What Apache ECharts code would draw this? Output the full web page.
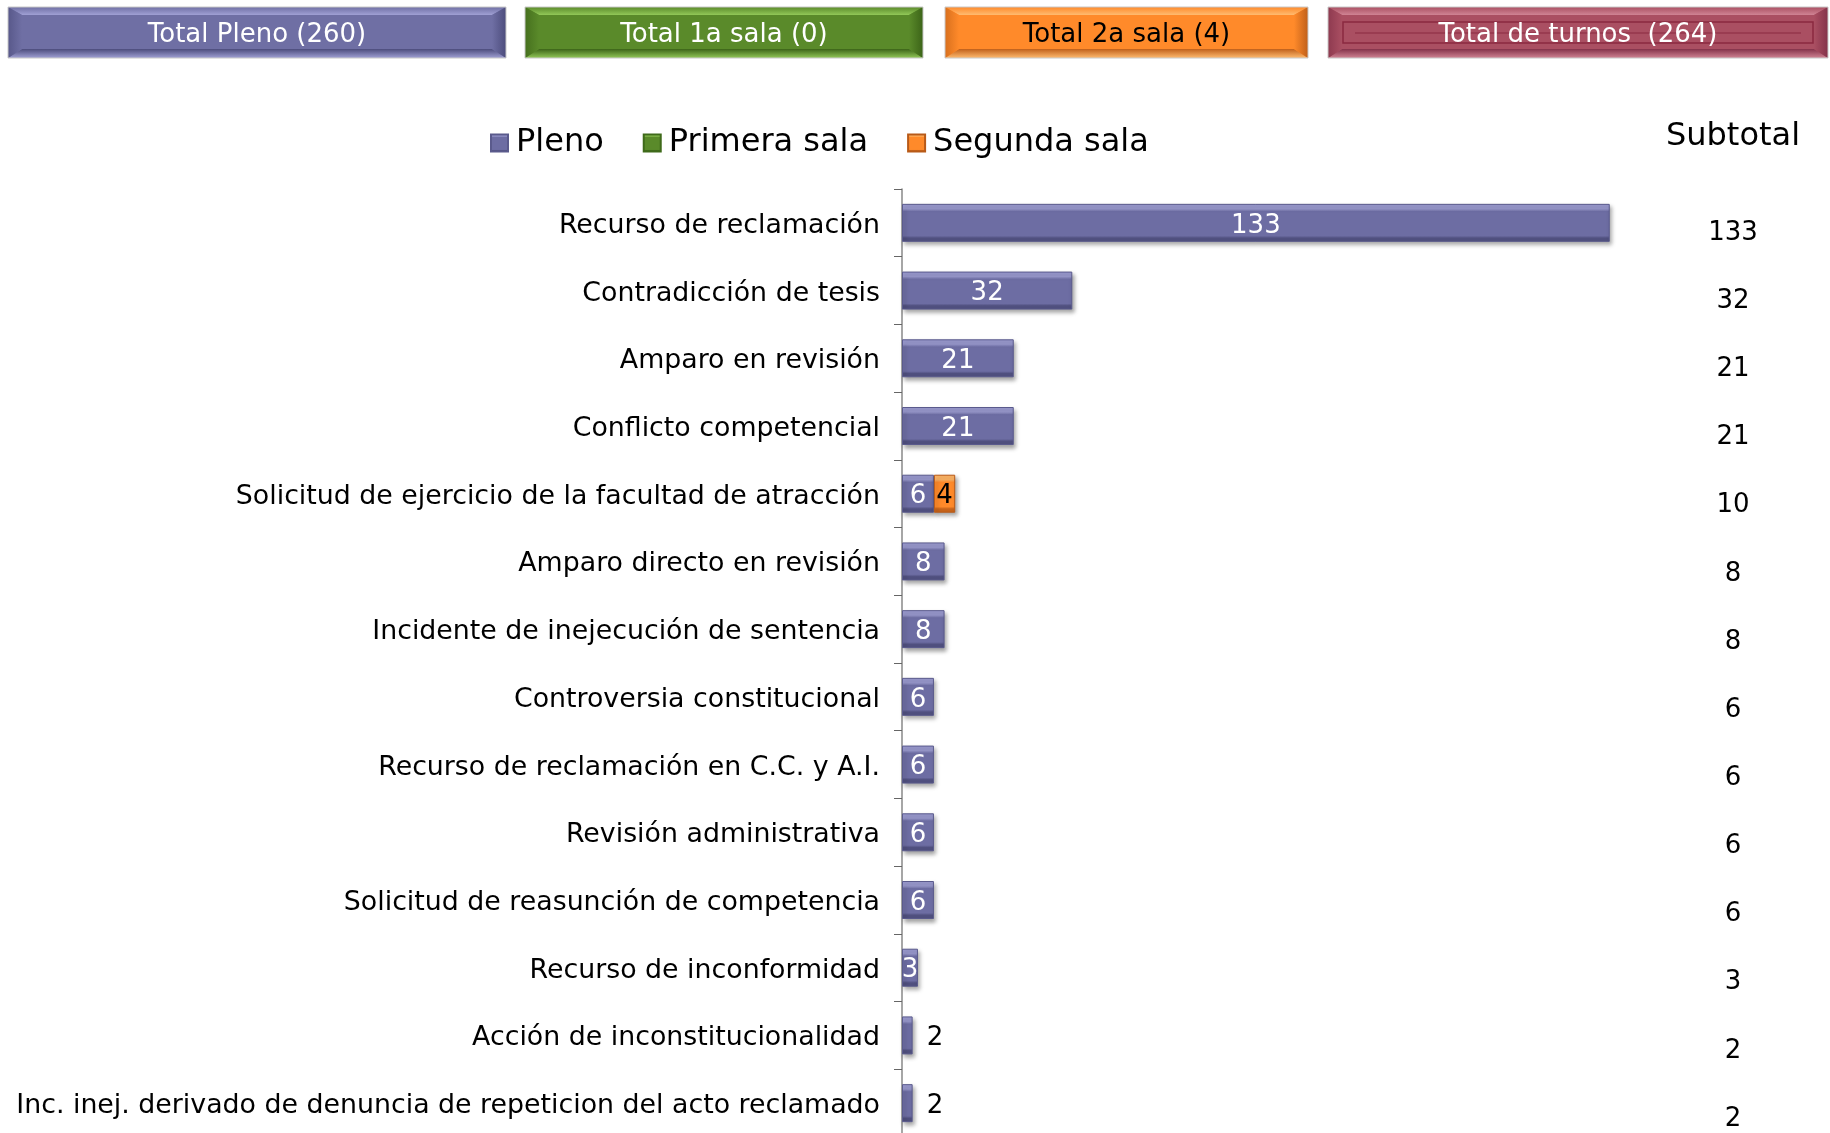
<!DOCTYPE html>
<html>
<head>
<meta charset="utf-8">
<script src="https://cdn.jsdelivr.net/npm/echarts@6/dist/echarts.min.js"></script>
<style>
  html, body { margin: 0; padding: 0; background: #fff; }
  #chart { width: 1830px; height: 1133px; }
</style>
</head>
<body>
<div id="chart"></div>
<script>
const categories = [
  "Recurso de reclamación",
  "Contradicción de tesis",
  "Amparo en revisión",
  "Conflicto competencial",
  "Solicitud de ejercicio de la facultad de atracción",
  "Amparo directo en revisión",
  "Incidente de inejecución de sentencia",
  "Controversia constitucional",
  "Recurso de reclamación en C.C. y A.I.",
  "Revisión administrativa",
  "Solicitud de reasunción de competencia",
  "Recurso de inconformidad",
  "Acción de inconstitucionalidad",
  "Inc. inej. derivado de denuncia de repeticion del acto reclamado"
];
const pleno = [133, 32, 21, 21, 6, 8, 8, 6, 6, 6, 6, 3, 2, 2];
const primera = [0, 0, 0, 0, 0, 0, 0, 0, 0, 0, 0, 0, 0, 0];
const segunda = [0, 0, 0, 0, 4, 0, 0, 0, 0, 0, 0, 0, 0, 0];
const seriesNames = ["Pleno", "Primera sala", "Segunda sala"];

const sum = a => a.reduce((s, v) => s + v, 0);
const subtotal = categories.map((c, i) => pleno[i] + primera[i] + segunda[i]);
const totPleno = sum(pleno), totPrimera = sum(primera), totSegunda = sum(segunda);
const totAll = totPleno + totPrimera + totSegunda;

const FONT = "DejaVu Sans";

// bevel-ish gradient, light top edge, dark bottom edge
const bevel = (light, base, dark) => new echarts.graphic.LinearGradient(0, 0, 0, 1, [
  { offset: 0, color: light },
  { offset: 0.13, color: light },
  { offset: 0.2, color: base },
  { offset: 0.84, color: base },
  { offset: 0.9, color: dark },
  { offset: 1, color: dark }
]);

const purple = bevel("#9a9acf", "#6d6da3", "#50507f");
const green = bevel("#8cc252", "#5a8a2a", "#3f6a1a");
const orange = bevel("#ffb566", "#ff8a2a", "#c8641a");

const barShadow = {
  shadowBlur: 4,
  shadowOffsetX: 2,
  shadowOffsetY: 3,
  shadowColor: "rgba(0,0,0,0.35)"
};

const mkData = (vals, insideColor) => vals.map(v => {
  if (v === 0) {
    return { value: v, label: { show: false },
      itemStyle: { borderWidth: 0, shadowBlur: 0, shadowOffsetX: 0, shadowOffsetY: 0, opacity: 0 } };
  }
  if (v < 3) {
    return { value: v, label: { show: true, position: "right", color: "#000", distance: 14 } };
  }
  return { value: v, label: { show: true, position: "inside", color: insideColor } };
});

// top buttons drawn as bevelled frames
const button = (x, w, label, base, light, dark, side, textColor, inner) => {
  const h = 51, y = 7, bt = 8, bb = 9, bs = 14;
  const kids = [
    { type: "rect", shape: { x: x, y: y, width: w, height: h }, style: { fill: base } },
    { type: "polygon", shape: { points: [[x, y], [x + w, y], [x + w - bs, y + bt], [x + bs, y + bt]] },
      style: { fill: new echarts.graphic.LinearGradient(0, 0, 0, 1, [{ offset: 0, color: base }, { offset: 1, color: light }]) } },
    { type: "polygon", shape: { points: [[x, y + h], [x + w, y + h], [x + w - bs, y + h - bb], [x + bs, y + h - bb]] },
      style: { fill: new echarts.graphic.LinearGradient(0, 0, 0, 1, [{ offset: 0, color: dark }, { offset: 1, color: light }]) } },
    { type: "polygon", shape: { points: [[x, y], [x + bs, y + bt], [x + bs, y + h - bb], [x, y + h]] },
      style: { fill: new echarts.graphic.LinearGradient(0, 0, 1, 0, [{ offset: 0, color: side }, { offset: 1, color: base }]) } },
    { type: "polygon", shape: { points: [[x + w, y], [x + w - bs, y + bt], [x + w - bs, y + h - bb], [x + w, y + h]] },
      style: { fill: new echarts.graphic.LinearGradient(1, 0, 0, 0, [{ offset: 0, color: dark }, { offset: 1, color: base }]) } },
    { type: "rect", shape: { x: x, y: y, width: w, height: h }, style: { fill: "none", stroke: "#c8c8c8", lineWidth: 1 } }
  ];
  if (inner) {
    kids.push(
      { type: "rect", shape: { x: x + 15, y: y + 15, width: w - 30, height: h - 30 },
        style: { fill: "none", stroke: "#8a2a40", lineWidth: 1.5 } },
      { type: "line", shape: { x1: x + 27, y1: y + h / 2 + 0.5, x2: x + w - 27, y2: y + h / 2 + 0.5 },
        style: { stroke: "#8a2a40", lineWidth: 1.2 } }
    );
  }
  kids.push({ type: "text", x: x + w / 2, y: y + h / 2 + 3,
    style: { text: label, fill: textColor, font: "26px '" + FONT + "'", align: "center", verticalAlign: "middle" } });
  return { type: "group", children: kids };
};

const chart = echarts.init(document.getElementById("chart"));
chart.setOption({
  backgroundColor: "#fff",
  animation: false,
  textStyle: { fontFamily: FONT },
  graphic: [
    button(8, 498, "Total Pleno (" + totPleno + ")", "#6f6fa4", "#a0a0d4", "#4c4c7c", "#58588a", "#fff"),
    button(525, 398, "Total 1a sala (" + totPrimera + ")", "#5a8a2a", "#92c858", "#3c6418", "#46701e", "#fff"),
    button(945, 363, "Total 2a sala (" + totSegunda + ")", "#ff8a2a", "#ffbb70", "#c0601a", "#d8701e", "#000"),
    button(1328, 500, "Total de turnos  (" + totAll + ")", "#aa4f62", "#d08494", "#84324a", "#8e3a50", "#fff", true),
    { type: "text", x: 1733, y: 137,
      style: { text: "Subtotal", fill: "#000", font: "32px '" + FONT + "'", align: "center", verticalAlign: "middle" } }
  ],
  legend: {
    data: seriesNames,
    left: 485,
    top: 122,
    icon: "rect",
    itemWidth: 17,
    itemHeight: 17,
    itemGap: 39,
    textStyle: { fontSize: 32, color: "#000", fontFamily: FONT, padding: [0, 0, 0, 3] }
  },
  grid: [
    // bars, axis line and ticks
    { left: 902, top: 189, width: 745, height: 948, outerBoundsMode: "none" },
    // subtotal column
    { left: 902, top: 199, width: 745, height: 954, outerBoundsMode: "none" },
    // category names
    { left: 902, top: 192, width: 745, height: 948, outerBoundsMode: "none" }
  ],
  xAxis: [
    { type: "value", min: 0, max: 140, show: false, gridIndex: 0 },
    { type: "value", min: 0, max: 140, show: false, gridIndex: 1 },
    { type: "value", min: 0, max: 140, show: false, gridIndex: 2 }
  ],
  yAxis: [
    {
      type: "category",
      gridIndex: 0,
      data: categories,
      inverse: true,
      axisLine: { show: true, lineStyle: { color: "#888", width: 1.5 } },
      axisTick: { show: true, length: 8, lineStyle: { color: "#666" } },
      axisLabel: { show: false }
    },
    {
      type: "category",
      gridIndex: 1,
      data: subtotal,
      inverse: true,
      position: "right",
      axisLine: { show: false },
      axisTick: { show: false },
      axisLabel: { fontSize: 26, color: "#000", margin: 86, align: "center", fontFamily: FONT }
    },
    {
      type: "category",
      gridIndex: 2,
      data: categories,
      inverse: true,
      axisLine: { show: false },
      axisTick: { show: false },
      axisLabel: { fontSize: 26.8, color: "#000", margin: 22, fontFamily: FONT }
    }
  ],
  series: [
    {
      name: seriesNames[0],
      type: "bar",
      stack: "t",
      barWidth: 38,
      data: mkData(pleno, "#fff"),
      itemStyle: Object.assign({ color: purple, borderColor: "#5a5a8c", borderWidth: 1 }, barShadow),
      label: { fontSize: 26, fontFamily: FONT, offset: [0, 3] }
    },
    {
      name: seriesNames[1],
      type: "bar",
      stack: "t",
      barWidth: 38,
      data: mkData(primera, "#fff"),
      itemStyle: Object.assign({ color: green, borderColor: "#3f6a1a", borderWidth: 1 }, barShadow),
      label: { fontSize: 26, fontFamily: FONT, offset: [0, 3] }
    },
    {
      name: seriesNames[2],
      type: "bar",
      stack: "t",
      barWidth: 38,
      data: mkData(segunda, "#000"),
      itemStyle: Object.assign({ color: orange, borderColor: "#b85a18", borderWidth: 1 }, barShadow),
      label: { fontSize: 26, fontFamily: FONT, offset: [0, 3] }
    }
  ]
});
</script>
</body>
</html>
